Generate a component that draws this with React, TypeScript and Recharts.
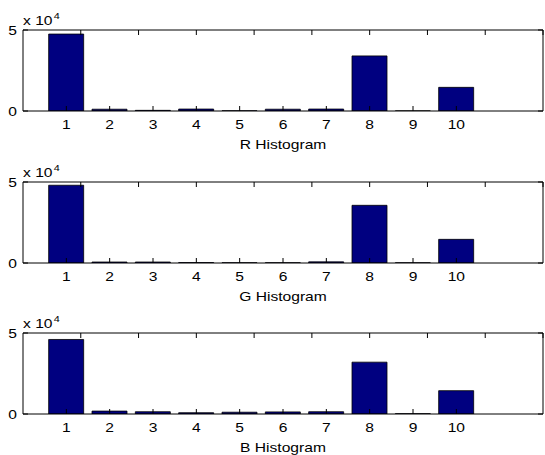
import React from 'react'
import { BarChart, Bar, XAxis, YAxis } from 'recharts'

// bin numbers (x) and counts per channel
const bins = [1, 2, 3, 4, 5, 6, 7, 8, 9, 10]
const rCounts = [47500, 1100, 400, 1200, 100, 1100, 1200, 34000, 50, 14600]
const gCounts = [48000, 600, 600, 250, 150, 150, 700, 35600, 100, 14600]
const bCounts = [46000, 1800, 1400, 800, 1100, 1300, 1400, 32000, 200, 14400]

const xTicks = [1, 2, 3, 4, 5, 6, 7, 8, 9, 10]
const yTicks = [0, 50000]
const titles = ['R Histogram', 'G Histogram', 'B Histogram']

const NAVY = '#000080'
const FONT = '"Liberation Sans", Arial, Helvetica, sans-serif'
const TICK = 5
const STRETCH = 1.2 // the source figure's text is a bit wider than Arial

const BottomTick = (p: any) => (
  <g>
    <line x1={p.x} y1={p.y} x2={p.x} y2={p.y - TICK} stroke="#000" />
    <text transform={`translate(${p.x},${p.y + 18}) scale(${STRETCH},1)`} textAnchor="middle"
      fontSize={13} fontFamily={FONT} fill="#000">
      {p.payload.value}
    </text>
  </g>
)

const TopTick = (p: any) => <line x1={p.x} y1={p.y} x2={p.x} y2={p.y + TICK} stroke="#000" />

const LeftTick = (p: any) => (
  <g>
    <line x1={p.x} y1={p.y} x2={p.x + TICK} y2={p.y} stroke="#000" />
    <text transform={`translate(${p.x - 6},${p.y + 5}) scale(${STRETCH},1)`} textAnchor="end"
      fontSize={13} fontFamily={FONT} fill="#000">
      {p.payload.value / 10000}
    </text>
  </g>
)

const RightTick = (p: any) => <line x1={p.x} y1={p.y} x2={p.x - TICK} y2={p.y} stroke="#000" />

function Panel({ counts, title, top }: { counts: number[]; title: string; top: number }) {
  const data = bins.map((b, i) => ({ bin: b, count: counts[i] }))
  return (
    <div style={{ position: 'absolute', left: 0, top, width: 545, height: 151 }}>
      <BarChart width={545} height={151} data={data} margin={{ top: 29, right: 1, bottom: 20, left: 0 }}>
        <XAxis dataKey="bin" type="number" domain={[0, 12]} ticks={xTicks} height={20}
          tickSize={0} tickMargin={0} tickLine={false} interval={0}
          axisLine={{ stroke: '#000' }} tick={<BottomTick />} />
        <XAxis xAxisId="top" orientation="top" type="number" domain={[0, 12]} ticks={xTicks} height={1}
          tickSize={0} tickMargin={0} tickLine={false} interval={0}
          axisLine={{ stroke: '#000' }} tick={<TopTick />} />
        <YAxis type="number" domain={[0, 50000]} ticks={yTicks} width={23} allowDataOverflow
          tickSize={0} tickMargin={0} tickLine={false} interval={0}
          axisLine={{ stroke: '#000' }} tick={<LeftTick />} />
        <YAxis yAxisId="r" orientation="right" type="number" domain={[0, 50000]} ticks={yTicks} width={1}
          allowDataOverflow tickSize={0} tickMargin={0} tickLine={false} interval={0}
          axisLine={{ stroke: '#000' }} tick={<RightTick />} />
        <Bar dataKey="count" fill={NAVY} stroke="#000" strokeWidth={0.8} barSize={35} isAnimationActive={false} />
      </BarChart>
      <div style={{ position: 'absolute', left: 23, top: 8, fontSize: 13, fontFamily: FONT, lineHeight: '16px',
        whiteSpace: 'nowrap', transform: `scaleX(${STRETCH})`, transformOrigin: 'left top' }}>
        x 10<sup style={{ fontSize: 9, verticalAlign: 6, marginLeft: 1 }}>4</sup>
      </div>
      <div style={{ position: 'absolute', left: 23, width: 520, top: 137, textAlign: 'center', fontSize: 13,
        fontFamily: FONT, lineHeight: '15px', transform: `scaleX(${STRETCH})`, transformOrigin: 'center top' }}>
        {title}
      </div>
    </div>
  )
}

export default function App() {
  return (
    <div style={{ position: 'absolute', left: 0, top: 0, width: 545, height: 455, background: '#fff', overflow: 'hidden' }}>
      <Panel counts={rCounts} title={titles[0]} top={0} />
      <Panel counts={gCounts} title={titles[1]} top={152} />
      <Panel counts={bCounts} title={titles[2]} top={303} />
    </div>
  )
}
